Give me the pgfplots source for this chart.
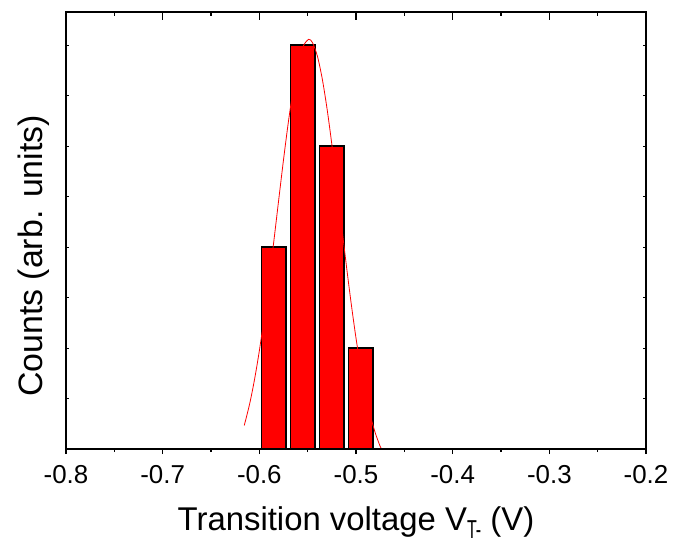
\documentclass[border=0pt]{standalone}
\usepackage{fontspec}
\setmainfont{Liberation Sans}
\usepackage{graphicx}
\usepackage{pgfplots}
\pgfplotsset{compat=1.18}

\newcommand{\tickfont}{\fontsize{26}{26}\selectfont}
\newcommand{\labfont}{\fontsize{33}{33}\selectfont}

\begin{document}
\begin{tikzpicture}
\useasboundingbox (-66bp,-98bp) rectangle (610bp,449bp);
% main axis: data, bottom ticks outward
\begin{axis}[
  name=ax,
  scale only axis,
  width=580bp, height=437bp,
  xmin=-0.8, xmax=-0.2,
  ymin=0, ymax=4.327,
  xtick={-0.8,-0.7,-0.6,-0.5,-0.4,-0.3,-0.2},
  xticklabels={-0.8,-0.7,-0.6,-0.5,-0.4,-0.3,-0.2},
  minor x tick num=1,
  xtick pos=bottom,
  ytick=\empty,
  tick align=outside,
  major tick length=5bp,
  minor tick length=3bp,
  tick style={black, line width=1.2bp},
  axis line style={black, line width=1.5bp},
  xticklabel style={font=\tickfont, inner sep=0pt, yshift=-11bp},
  xlabel={Transition voltage V\raisebox{-8bp}{\scalebox{0.62}[1]{\fontsize{26}{26}\selectfont T-}} (V)},
  xlabel style={at={(axis description cs:0.5,0)}, anchor=base, yshift=-81bp, font=\labfont, inner sep=0pt},
  ylabel={Counts (arb. units)},
  ylabel style={at={(axis description cs:-0.0397,0.4416)}, anchor=base, font=\fontsize{34}{34}\selectfont, inner sep=0pt},
  clip=false
]
\addplot[ybar, bar width=0.025, fill=red, draw=black, line width=1.2bp]
  coordinates {(-0.585,2) (-0.555,4) (-0.525,3) (-0.495,1)};
\addplot[red, line width=0.8bp, smooth] coordinates {
  (-0.6156,0.233) (-0.610,0.448) (-0.605,0.687) (-0.600,0.972) (-0.595,1.300)
  (-0.590,1.666) (-0.585,2.058) (-0.580,2.464) (-0.575,2.863) (-0.570,3.235)
  (-0.565,3.559) (-0.560,3.813) (-0.555,3.982) (-0.549,4.056) (-0.545,4.023)
  (-0.540,3.892) (-0.535,3.670) (-0.530,3.372) (-0.525,3.017) (-0.520,2.626)
  (-0.515,2.220) (-0.510,1.820) (-0.505,1.442) (-0.500,1.098) (-0.495,0.796)
  (-0.490,0.539) (-0.485,0.326) (-0.480,0.157) (-0.475,0.026) (-0.4735,0.0)};
\end{axis}
% overlay axis: top ticks inward
\begin{axis}[
  scale only axis,
  width=580bp, height=437bp,
  xmin=-0.8, xmax=-0.2,
  ymin=0, ymax=4.327,
  xtick={-0.8,-0.7,-0.6,-0.5,-0.4,-0.3,-0.2},
  minor x tick num=1,
  xtick pos=top,
  xticklabels={},
  ytick=\empty,
  tick align=inside,
  major tick length=8bp,
  minor tick length=4bp,
  tick style={black, line width=1.2bp},
  axis line style={black, line width=1.5bp}
]
\end{axis}
% overlay axis: small y ticks
\begin{axis}[
  scale only axis,
  width=580bp, height=437bp,
  xmin=-0.8, xmax=-0.2,
  ymin=0, ymax=4.327,
  xtick=\empty,
  ytick={0.5,1,1.5,2,2.5,3,3.5,4},
  yticklabels={},
  ytick pos=both,
  tick align=inside,
  major tick length=3bp,
  tick style={black, line width=1bp},
  axis line style={black, line width=1.5bp}
]
\end{axis}
\end{tikzpicture}
\end{document}
